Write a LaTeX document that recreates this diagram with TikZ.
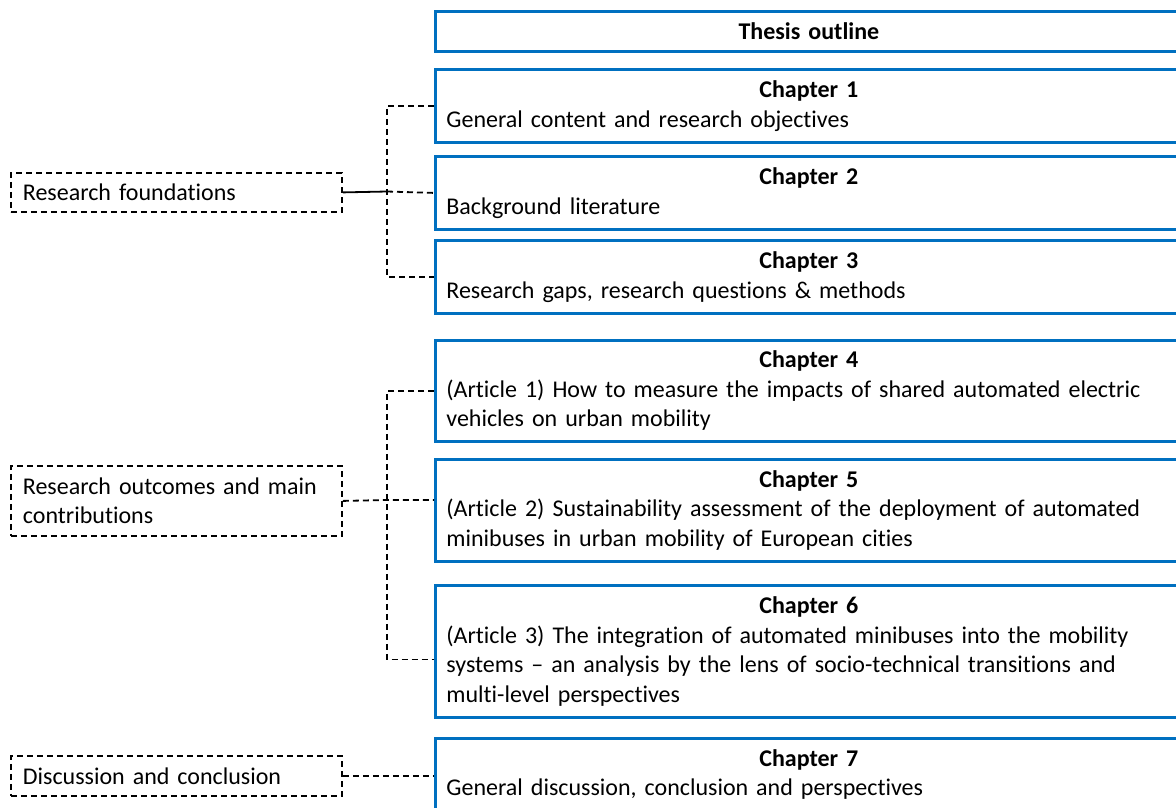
\documentclass[tikz,border=0pt]{standalone}
\usepackage{fontspec}
\setmainfont{Carlito}[Ligatures=NoCommon]
\definecolor{boxblue}{HTML}{0070C0}

\begin{document}
\begin{tikzpicture}[x=1pt, y=-1pt,
    chap/.style={draw=boxblue, line width=2.8pt, text width=725pt, inner xsep=11pt, inner ysep=0pt, align=left, anchor=north west, font=\fontsize{24}{29.5}\selectfont},
    part/.style={draw, dash pattern=on 6pt off 4pt, line width=1.8pt, text width=307pt, inner xsep=12pt, inner ysep=0pt, align=left, anchor=north west, font=\fontsize{24}{29.5}\selectfont},
    link/.style={dash pattern=on 6pt off 4pt, line width=1.8pt}]

    \clip (0,0) rectangle (1176,807);

    % chapters
    \node[chap, minimum height=40pt] at (434,10) (outline) {{\centering\bfseries Thesis outline\par}};
    \node[chap, minimum height=73pt] at (434,68) (ch1) {{\centering\bfseries Chapter 1\par}General content and research objectives};
    \node[chap, minimum height=73pt] at (434,155) (ch2) {{\centering\bfseries Chapter 2\par}Background literature};
    \node[chap, minimum height=73pt] at (434,239) (ch3) {{\centering\bfseries Chapter 3\par}Research gaps, research questions \& methods};
    \node[chap, minimum height=101pt] at (434,339) (ch4) {{\centering\bfseries Chapter 4\par}(Article 1) How to measure the impacts of shared automated electric\\vehicles on urban mobility};
    \node[chap, minimum height=102pt] at (434,458) (ch5) {{\centering\bfseries Chapter 5\par}(Article 2) Sustainability assessment of the deployment of automated\\minibuses in urban mobility of European cities};
    \node[chap, minimum height=132pt] at (434,584) (ch6) {{\centering\bfseries Chapter 6\par}(Article 3) The integration of automated minibuses into the mobility\\systems -- an analysis by the lens of socio-technical transitions and\\multi-level perspectives};
    \node[chap, minimum height=72pt] at (434,737) (ch7) {{\centering\bfseries Chapter 7\par}General discussion, conclusion and perspectives};

    % parts
    \node[part, minimum height=39pt] at (10,172) (found) {Research foundations};
    \node[part, minimum height=70pt] at (10,465) (outcomes) {Research outcomes and main\\contributions};
    \node[part, minimum height=40pt] at (10,755) (discuss) {Discussion and conclusion};

    \coordinate (j1) at (387,191.5);
    \coordinate (j2) at (387,500);

    \draw[line width=1.8pt] (found.east) -- (j1);
    \draw[link] (ch1.west) -| (j1) |- (ch3.west);
    \draw[link] (j1) -- (ch2.west);

    \draw[link] (outcomes.east) -- (j2) -- (j2 -| ch5.west);
    \draw[link] (ch4.west) -| (j2) |- ([yshift=-8pt]ch6.west);

    \draw[link] (discuss.east) -- (discuss.east -| ch7.west);
\end{tikzpicture}
\end{document}
